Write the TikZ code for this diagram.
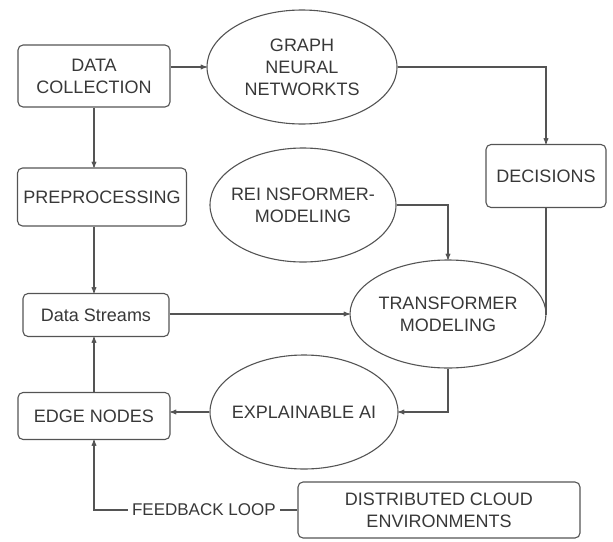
\documentclass[tikz,border=0pt]{standalone}
\usepackage{fontspec}
\setmainfont{Liberation Sans}
\usetikzlibrary{arrows,shapes.geometric}
\definecolor{txtGray}{rgb}{0.22,0.22,0.22}
\definecolor{lnGray} {rgb}{0.33,0.33,0.33}

\begin{document}
\begin{tikzpicture}
[x=1pt, y=-1pt, >=stealth', line width=1.1pt, draw=lnGray,
  box/.style  = { draw=lnGray, rounded corners=5pt, align=center, inner sep=0pt, text=txtGray,
                  font=\fontsize{18}{22}\selectfont },
  oval/.style = { draw=lnGray, ellipse, align=center, inner xsep=-30pt, inner ysep=0pt, text=txtGray,
                  font=\fontsize{18}{22}\selectfont },
  conn/.style = { draw=lnGray }
]

% Frame:
\useasboundingbox (0,0) rectangle (613,541);

% Boxes on the left:
\node[box, minimum width=152pt, minimum height=62pt] (dc)   at (94,76)   {DATA\\COLLECTION};
\node[box, minimum width=169pt, minimum height=58pt] (pre)  at (102,197) {PREPROCESSING};
\node[box, minimum width=146pt, minimum height=43pt] (ds)   at (96,315)  {Data Streams};
\node[box, minimum width=152pt, minimum height=47pt] (edge) at (94,416)  {EDGE NODES};

% Ellipses in the middle:
\node[oval, minimum width=190pt, minimum height=114pt] (gnn) at (302,67)  {GRAPH\\NEURAL\\NETWORKTS};
\node[oval, minimum width=186pt, minimum height=114pt] (rei) at (303,205) {REI NSFORMER-\\MODELING};
\node[oval, minimum width=196pt, minimum height=108pt] (tm)  at (448,314) {TRANSFORMER\\MODELING};
\node[oval, minimum width=188pt, minimum height=114pt] (xai) at (304,412) {EXPLAINABLE AI};

% Boxes on the right:
\node[box, minimum width=120pt, minimum height=63pt] (dec)   at (546,176) {DECISIONS};
\node[box, minimum width=282pt, minimum height=56pt] (cloud) at (439,510) {DISTRIBUTED CLOUD\\ENVIRONMENTS};

% Connectors:
\draw[conn, ->] (dc.east |- gnn.west) -- (gnn.west);
\draw[conn, ->] (gnn.east) -| (dec.north);
\draw[conn, ->] (dc.south) -- (dc.south |- pre.north);
\draw[conn, ->] (dc.south |- pre.south) -- (dc.south |- ds.north);
\draw[conn, ->] (rei.east) -| (tm.north);
\draw[conn]     (dec.south) -- (dec.south |- tm.east) -- (tm.east);
\draw[conn, ->] (ds.east |- tm.west) -- (tm.west);
\draw[conn, ->] (tm.south) |- (xai.east);
\draw[conn, ->] (xai.west) -- (xai.west -| edge.east);
\draw[conn, ->] (edge.north) -- (edge.north |- ds.south);

% Feedback loop:
\draw[conn, ->] (cloud.west) -- node[pos=0.46, fill=white, inner xsep=4pt, text=txtGray,
      font=\fontsize{17}{21}\selectfont] (fb) {FEEDBACK LOOP}
      (edge.south |- cloud.west) -- (edge.south);
\end{tikzpicture}
\end{document}
